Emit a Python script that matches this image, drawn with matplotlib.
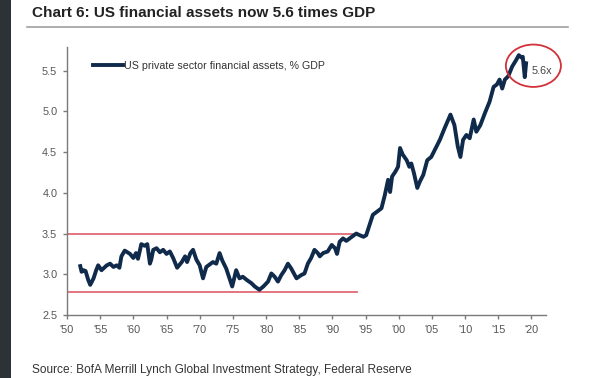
import matplotlib.pyplot as plt
from matplotlib.patches import Ellipse, Rectangle
from matplotlib.lines import Line2D

# US private sector financial assets as a multiple of GDP
years = [1952.0, 1952.2, 1952.5, 1952.8, 1953.2, 1953.5, 1954.0, 1954.4, 1954.7, 1955.2,
         1955.6, 1956.0, 1956.5, 1957.0, 1957.5, 1957.9, 1958.2, 1958.7, 1959.1, 1959.5,
         1960.0, 1960.4, 1960.7, 1961.2, 1961.7, 1962.1, 1962.5, 1962.7, 1963.0, 1963.5,
         1964.0, 1964.5, 1965.0, 1965.5, 1966.0, 1966.6, 1967.3, 1967.8, 1968.1, 1968.6,
         1969.0, 1969.5, 1970.0, 1970.5, 1971.0, 1971.5, 1972.0, 1972.5, 1973.0, 1973.4,
         1974.0, 1974.5, 1974.9, 1975.5, 1976.0, 1976.5, 1977.1, 1977.8, 1978.3, 1979.0,
         1979.6, 1980.3, 1980.8, 1981.3, 1981.8, 1982.3, 1982.8, 1983.3, 1983.8, 1984.6,
         1985.3, 1985.8, 1986.3, 1986.8, 1987.3, 1987.8, 1988.1, 1988.6, 1989.3, 1989.9,
         1990.4, 1990.7, 1991.1, 1991.6, 1992.1, 1992.6, 1993.1, 1993.6, 1994.1, 1994.7,
         1995.1, 1996.1, 1996.9, 1997.4, 1997.9, 1998.4, 1998.7, 1999.0, 1999.5, 1999.9,
         2000.2, 2000.6, 2001.2, 2001.6, 2001.9, 2002.3, 2002.8, 2003.2, 2003.7, 2004.3,
         2004.9, 2005.4, 2006.2, 2006.9, 2007.8, 2008.4, 2008.9, 2009.3, 2009.7, 2010.2,
         2010.7, 2011.3, 2011.7, 2012.3, 2013.0, 2013.7, 2014.3, 2014.8, 2015.2, 2015.6,
         2016.0, 2016.5, 2017.1, 2017.7, 2018.1, 2018.5, 2018.7, 2019.0, 2019.2]
assets_gdp = [3.10, 3.03, 3.05, 3.04, 2.93, 2.87, 2.95, 3.05, 3.11, 3.05,
              3.08, 3.11, 3.13, 3.09, 3.11, 3.08, 3.22, 3.29, 3.27, 3.25,
              3.20, 3.26, 3.19, 3.37, 3.35, 3.37, 3.13, 3.18, 3.30, 3.32,
              3.27, 3.30, 3.25, 3.28, 3.20, 3.08, 3.15, 3.22, 3.15, 3.26,
              3.30, 3.18, 3.11, 2.95, 3.09, 3.12, 3.15, 3.13, 3.26, 3.17,
              3.07, 2.95, 2.85, 3.05, 2.95, 2.97, 2.93, 2.89, 2.85, 2.81,
              2.85, 2.91, 3.01, 2.97, 2.91, 2.99, 3.05, 3.13, 3.07, 2.95,
              2.99, 3.01, 3.13, 3.20, 3.30, 3.26, 3.22, 3.26, 3.28, 3.36,
              3.32, 3.25, 3.40, 3.44, 3.41, 3.44, 3.47, 3.50, 3.48, 3.46,
              3.48, 3.73, 3.78, 3.81, 3.97, 4.16, 4.01, 4.20, 4.26, 4.32,
              4.55, 4.47, 4.40, 4.32, 4.36, 4.24, 4.06, 4.14, 4.22, 4.40,
              4.44, 4.52, 4.65, 4.79, 4.96, 4.83, 4.57, 4.44, 4.65, 4.71,
              4.67, 4.90, 4.75, 4.83, 4.98, 5.12, 5.30, 5.33, 5.39, 5.28,
              5.39, 5.43, 5.55, 5.63, 5.69, 5.66, 5.67, 5.42, 5.59]

# historic range before the mid-90s
range_high = 3.5
range_low = 2.78
range_end = 1993.7

xtick_years = list(range(1950, 2021, 5))
xtick_labels = ["'%02d" % (y % 100) for y in xtick_years]
yticks = [2.5, 3.0, 3.5, 4.0, 4.5, 5.0, 5.5]

font = 'Liberation Sans'
navy = '#0f2a4a'
grey = '#555555'

fig = plt.figure(figsize=(5.98, 3.78), dpi=100)
fig.patch.set_facecolor('white')

# dark strip down the left edge
fig.patches.append(Rectangle((0, 0), 11 / 598, 1, transform=fig.transFigure,
                             facecolor='#2d3236', edgecolor='none'))

fig.text(32 / 598, 1 - 13 / 378, 'Chart 6: US financial assets now 5.6 times GDP',
         family=font, fontsize=11, fontweight='bold', color='#222222', va='center')
fig.add_artist(Line2D([27 / 598, 568 / 598], [1 - 27 / 378, 1 - 27 / 378],
                      transform=fig.transFigure, color='#a0a0a0', lw=1.2))
fig.text(32 / 598, 1 - 370 / 378,
         'Source: BofA Merrill Lynch Global Investment Strategy, Federal Reserve',
         family=font, fontsize=8.6, color='#333333', va='center')

ax = fig.add_axes([67 / 598, 1 - 315 / 378, (546 - 67) / 598, (315 - 47) / 378])

ax.plot([1950, range_end], [range_high, range_high], color='#e06a75', lw=1.3, zorder=1)
ax.plot([1950, range_end], [range_low, range_low], color='#e06a75', lw=1.3, zorder=1)

ax.plot(years, assets_gdp, color=navy, lw=2.8, solid_joinstyle='round',
        label='US private sector financial assets, % GDP', zorder=3)

ax.add_patch(Ellipse((2020.3, 5.56), 8.3, 0.52, fill=False, edgecolor='#d2323a',
                     lw=1.3, clip_on=False, zorder=4))
ax.text(2020.0, 5.50, '5.6x', family=font, fontsize=7.8, color='#444444', va='center')

ax.set_xlim(1950, 2022.2)
ax.set_ylim(2.5, 5.79)
ax.set_xticks(xtick_years)
ax.set_xticklabels(xtick_labels)
ax.set_yticks(yticks)
ax.set_yticklabels(['%.1f' % v for v in yticks])

for side in ['top', 'right']:
    ax.spines[side].set_visible(False)
for side in ['left', 'bottom']:
    ax.spines[side].set_color('#7a7a7a')
    ax.spines[side].set_linewidth(1.0)
ax.tick_params(axis='both', direction='out', length=3, width=1.0, color='#7a7a7a',
               labelcolor=grey, labelsize=7.8, pad=4)
for lab in ax.get_xticklabels() + ax.get_yticklabels():
    lab.set_family(font)

leg = ax.legend(loc='upper left', bbox_to_anchor=(0.045, 0.965), frameon=False,
                handlelength=2.8, handletextpad=0.15, borderaxespad=0,
                prop={'family': font, 'size': 7.7})
for t in leg.get_texts():
    t.set_color('#333333')

fig.savefig('out.png', dpi=100)
